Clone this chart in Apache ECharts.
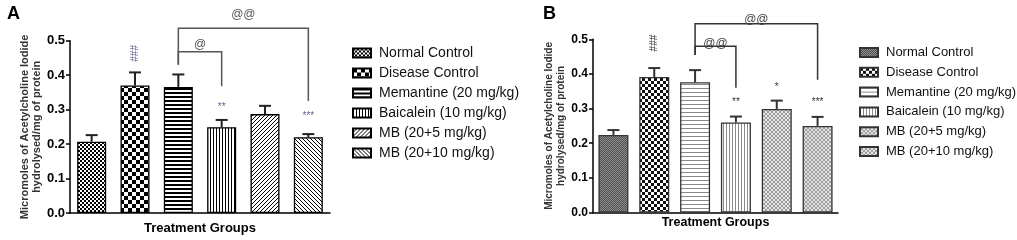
<!DOCTYPE html>
<html>
<head>
<meta charset="utf-8">
<script src="https://cdn.jsdelivr.net/npm/echarts@6/dist/echarts.min.js"></script>
<style>
  html, body { margin: 0; padding: 0; background: #fff; }
  #gh { width: 1017px; height: 240px; }
</style>
</head>
<body>
<div id="gh"></div>
<script>
var dom = document.getElementById("gh");
var myChart = echarts.init(dom, null, { renderer: 'canvas' });

// groups (same for both panels)
var categories = ['Normal Control', 'Disease Control', 'Memantine (20 mg/kg)',
  'Baicalein (10 mg/kg)', 'MB (20+5 mg/kg)', 'MB (20+10 mg/kg)'];
var yTickLabels = ['0.0', '0.1', '0.2', '0.3', '0.4', '0.5'];

// panel A
var meanA = [0.207, 0.370, 0.366, 0.249, 0.287, 0.220];
var semA = [0.019, 0.038, 0.036, 0.021, 0.024, 0.009];
var marksA = ['', '###', '', '**', '', '***'];
var compareA = [[2, 3, '@'], [2, 5, '@@']];

// panel B
var meanB = [0.224, 0.391, 0.376, 0.260, 0.299, 0.250];
var semB = [0.014, 0.026, 0.035, 0.017, 0.024, 0.026];
var marksB = ['', '###', '', '**', '*', '***'];
var compareB = [[2, 3, '@@'], [2, 5, '@@']];

// layout only (px offsets / bracket heights in axis units)
var markOffA = [0, 19, 0, 13, 0, 18];
var markOffB = [0, 25, 0, 14, 13, 15];
var bracketA = [{ top: 0.468, left: 0.430, right: 0.368, lab: 7 }, { top: 0.536, left: 0.430, right: 0.325, lab: 14 }];
var bracketB = [{ top: 0.480, left: 0.455, right: 0.360, lab: 3 }, { top: 0.545, left: 0.455, right: 0.383, lab: 4 }];

var FONT = "'Liberation Sans', Arial, sans-serif";

// little canvas tiles for the hatch fills
function tile(w, h, bg, draw) {
  var c = document.createElement('canvas');
  c.width = w; c.height = h;
  var ctx = c.getContext('2d');
  ctx.fillStyle = bg;
  ctx.fillRect(0, 0, w, h);
  draw(ctx);
  return { image: c, repeat: 'repeat' };
}
function px(ctx, col, pts) {
  ctx.fillStyle = col;
  pts.forEach(function (p) { ctx.fillRect(p[0], p[1], 1, 1); });
}

var fillA = [
  tile(4, 4, '#fff', function (c) { c.fillStyle = '#000'; c.fillRect(0, 0, 2, 2); c.fillRect(2, 2, 2, 2); }),
  tile(8, 8, '#fff', function (c) { c.fillStyle = '#000'; c.fillRect(0, 0, 4, 4); c.fillRect(4, 4, 4, 4); }),
  tile(4, 4, '#fff', function (c) { c.fillStyle = '#000'; c.fillRect(0, 0, 4, 2); }),
  tile(3, 3, '#fff', function (c) { c.fillStyle = '#000'; c.fillRect(0, 0, 1, 3); }),
  tile(4, 4, '#fff', function (c) {
    var p = []; for (var y = 0; y < 4; y++) { p.push([(3 - y + 4) % 4, y]); }
    px(c, '#000', p);
  }),
  tile(4, 4, '#fff', function (c) {
    var p = []; for (var y = 0; y < 4; y++) { p.push([y % 4, y]); }
    px(c, '#000', p);
  })
];

var fillB = [
  tile(2, 2, '#4f4f4f', function (c) { px(c, '#8f8f8f', [[0, 0], [1, 1]]); }),
  tile(6, 6, '#fff', function (c) { c.fillStyle = '#111'; c.fillRect(0, 0, 3, 3); c.fillRect(3, 3, 3, 3); }),
  tile(4, 4, '#fff', function (c) { c.fillStyle = '#8a8a8a'; c.fillRect(0, 0, 4, 1); }),
  tile(3, 3, '#fff', function (c) { c.fillStyle = '#8a8a8a'; c.fillRect(0, 0, 1, 3); }),
  tile(4, 4, '#e8e8e8', function (c) { px(c, '#9a9a9a', [[0, 0], [1, 1], [2, 2], [3, 3], [3, 0], [2, 1], [1, 2], [0, 3]]); }),
  tile(4, 4, '#e2e2e2', function (c) { px(c, '#a0a0a0', [[0, 0], [1, 1], [2, 2], [3, 3], [3, 0], [2, 1], [1, 2], [0, 3]]); })
];

function errorRender(marks, offs, col, markCol) {
  return function (params, api) {
    var i = api.value(0), m = api.value(1), e = api.value(2);
    var p0 = api.coord([i, m]), p1 = api.coord([i, m + e]);
    var kids = [
      { type: 'line', shape: { x1: p0[0], y1: p0[1], x2: p1[0], y2: p1[1] }, style: { stroke: col, lineWidth: 2 } },
      { type: 'line', shape: { x1: p1[0] - 6, y1: p1[1], x2: p1[0] + 6, y2: p1[1] }, style: { stroke: col, lineWidth: 2 } }
    ];
    var mk = marks[params.dataIndex];
    if (mk) {
      kids.push({
        type: 'text', x: p1[0], y: p1[1] - offs[params.dataIndex],
        rotation: mk.charAt(0) === '#' ? Math.PI / 2 : 0,
        style: { text: mk, fill: markCol, font: '10px ' + FONT, align: 'center', verticalAlign: 'middle' }
      });
    }
    return { type: 'group', children: kids };
  };
}

function bracketRender(comp, lay, col, labCol) {
  return function (params, api) {
    var c = comp[params.dataIndex], L = lay[params.dataIndex];
    var a = api.coord([c[0], L.top]), b = api.coord([c[1], L.top]);
    var la = api.coord([c[0], L.left]), rb = api.coord([c[1], L.right]);
    return {
      type: 'group',
      children: [
        { type: 'polyline', shape: { points: [[la[0], la[1]], [a[0], a[1]], [b[0], b[1]], [rb[0], rb[1]]] },
          style: { stroke: col, lineWidth: 1.5, fill: null } },
        { type: 'text', x: (a[0] + b[0]) / 2, y: a[1] - L.lab,
          style: { text: c[2], fill: labCol, font: '12px ' + FONT, align: 'center', verticalAlign: 'middle' } }
      ]
    };
  };
}

function yAxis(gi, fs) {
  return {
    type: 'value', gridIndex: gi, min: 0, max: 0.5, interval: 0.1,
    name: 'Micromoles of Acetylcholine Iodide\nhydrolysed/mg of protein',
    nameLocation: 'middle', nameRotate: 90, nameGap: gi === 0 ? 27 : 19,
    nameTextStyle: { fontFamily: FONT, fontWeight: 'bold', fontSize: gi === 0 ? 11 : 10, color: '#333', lineHeight: 12 },
    axisLine: { show: true, lineStyle: { color: '#000', width: 1.5 } },
    axisTick: { show: true, length: 4, lineStyle: { color: '#000', width: 1.5 } },
    splitLine: { show: false },
    axisLabel: {
      margin: 5, fontFamily: FONT, fontWeight: 'bold', fontSize: fs, color: '#000',
      formatter: function (v) { return yTickLabels[Math.round(v * 10)]; }
    }
  };
}

function xAxis(gi, gap, fs) {
  return {
    type: 'category', gridIndex: gi, data: categories,
    name: 'Treatment Groups', nameLocation: 'middle', nameGap: gap,
    nameTextStyle: { fontFamily: FONT, fontWeight: 'bold', fontSize: fs, color: '#000' },
    axisLine: { lineStyle: { color: '#000', width: 1.5 } },
    axisTick: { alignWithLabel: true, length: 5, lineStyle: { color: '#000', width: 1.5 } },
    axisLabel: { show: false }
  };
}

var series = [];
function addPanel(gi, prefix, means, sems, fills, bw, border, marks, offs, markCol, comp, lay, brCol, labCol) {
  categories.forEach(function (name, k) {
    series.push({
      name: prefix + name, type: 'bar', xAxisIndex: gi, yAxisIndex: gi,
      barWidth: bw, barGap: '-100%',
      itemStyle: { color: fills[k], borderColor: border, borderWidth: 1.3 },
      emphasis: { disabled: true },
      data: means.map(function (v, j) { return j === k ? v : '-'; })
    });
  });
  series.push({
    type: 'custom', xAxisIndex: gi, yAxisIndex: gi, z: 5, clip: false,
    renderItem: errorRender(marks, offs, border === '#000' ? '#222' : '#333', markCol),
    encode: { x: 0, y: 1 },
    data: means.map(function (v, j) { return [j, v, sems[j]]; })
  });
  series.push({
    type: 'custom', xAxisIndex: gi, yAxisIndex: gi, z: 6, clip: false,
    renderItem: bracketRender(comp, lay, brCol, labCol),
    encode: { x: [0, 1], y: 3 },
    data: comp.map(function (c, j) { return [c[0], c[1], 0, lay[j].top]; })
  });
}
addPanel(0, 'A: ', meanA, semA, fillA, 29, '#000', marksA, markOffA, '#6a5f8c', compareA, bracketA, '#555', '#555');
addPanel(1, 'B: ', meanB, semB, fillB, 30, '#333', marksB, markOffB, '#333', compareB, bracketB, '#333', '#444');

function legend(left, top, prefix, fs, gap) {
  return {
    orient: 'vertical', left: left, top: top, selectedMode: false,
    icon: 'rect', itemWidth: 18, itemHeight: 9, itemGap: gap,
    textStyle: { fontFamily: FONT, fontSize: fs, color: '#111', padding: [0, 0, 0, 3] },
    data: categories.map(function (c) { return prefix + c; }),
    formatter: function (n) { return n.slice(3); }
  };
}

var option = {
  animation: false,
  title: [
    { text: 'A', left: 2, top: 0, textStyle: { fontFamily: FONT, fontWeight: 'bold', fontSize: 18, color: '#000' } },
    { text: 'B', left: 538, top: 0, textStyle: { fontFamily: FONT, fontWeight: 'bold', fontSize: 18, color: '#000' } }
  ],
  grid: [
    { left: 70, top: 40.7, width: 260, height: 174.3 },
    { left: 593, top: 39.3, width: 245, height: 173.2 }
  ],
  xAxis: [xAxis(0, 9, 13), xAxis(1, 4, 12.5)],
  yAxis: [yAxis(0, 13), yAxis(1, 12)],
  legend: [legend(347, 41, 'A: ', 14, 6), legend(854, 41, 'B: ', 13, 6.8)],
  series: series
};

myChart.setOption(option);
</script>
</body>
</html>
